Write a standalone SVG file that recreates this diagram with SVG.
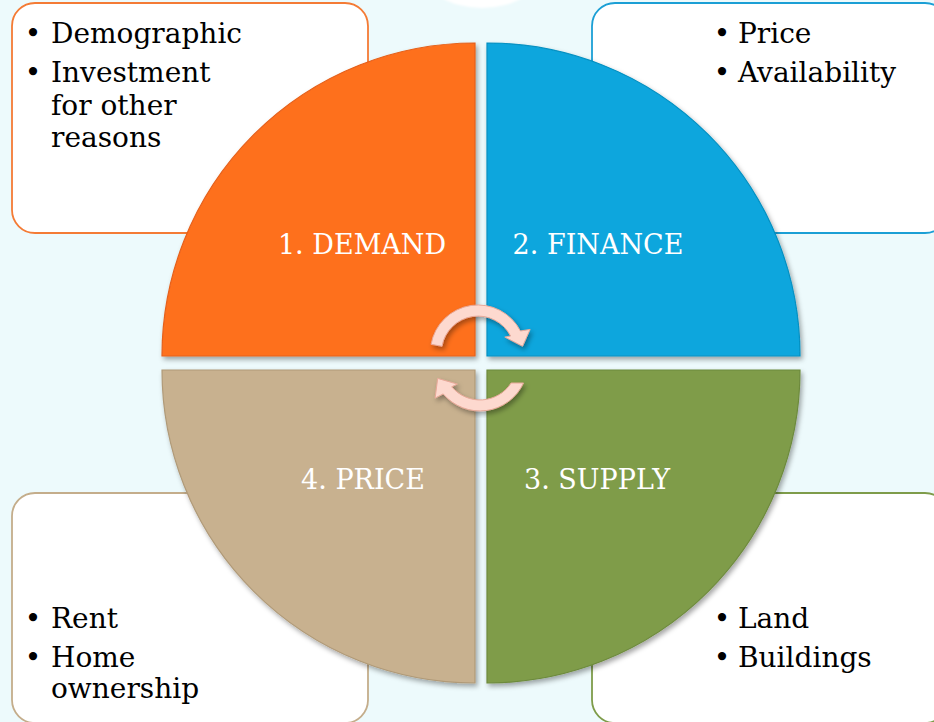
<svg xmlns="http://www.w3.org/2000/svg" width="934" height="722" viewBox="0 0 934 722">
  <defs>
    <filter id="shadow" x="-10%" y="-10%" width="130%" height="130%">
      <feDropShadow dx="2" dy="3" stdDeviation="2.5" flood-color="#000" flood-opacity="0.35"/>
    </filter>
    <filter id="soft" x="-20%" y="-20%" width="140%" height="140%">
      <feGaussianBlur stdDeviation="1.2"/>
    </filter>
    <style>
      .box { fill: #ffffff; stroke-width: 1.8; }
      .bullet { font-family: "DejaVu Serif", Georgia, serif; font-size: 28px; fill: #000000; }
      .label { font-family: "DejaVu Serif", Georgia, serif; font-size: 27px; fill: #ffffff; text-anchor: middle; }
      .wedge { stroke-width: 1.2; filter: url(#shadow); }
      .cycle { fill: #fdd9cf; stroke: #e8a898; stroke-width: 1; filter: url(#shadow); }
    </style>
  </defs>

  <!-- background -->
  <rect x="0" y="0" width="934" height="722" fill="#edfafc"/>
  <ellipse cx="482" cy="-30" rx="60" ry="38" fill="#ffffff" filter="url(#soft)"/>

  <!-- detail boxes -->
  <g id="box-demand">
    <rect class="box" x="12" y="3" width="356" height="230" rx="23" stroke="#f47b35"/>
    <text class="bullet" x="33" y="43" text-anchor="middle">•</text>
    <text class="bullet" x="51" y="43">Demographic</text>
    <text class="bullet" x="33" y="82" text-anchor="middle">•</text>
    <text class="bullet" x="51" y="82">Investment</text>
    <text class="bullet" x="51" y="115">for other</text>
    <text class="bullet" x="51" y="147">reasons</text>
  </g>

  <g id="box-finance">
    <rect class="box" x="592" y="3" width="356" height="230" rx="23" stroke="#1b9fd5"/>
    <text class="bullet" x="722" y="43" text-anchor="middle">•</text>
    <text class="bullet" x="738" y="43">Price</text>
    <text class="bullet" x="722" y="82" text-anchor="middle">•</text>
    <text class="bullet" x="738" y="82">Availability</text>
  </g>

  <g id="box-price">
    <rect class="box" x="12" y="493" width="356" height="230" rx="23" stroke="#c4ad8b"/>
    <text class="bullet" x="33" y="628" text-anchor="middle">•</text>
    <text class="bullet" x="51" y="628">Rent</text>
    <text class="bullet" x="33" y="667" text-anchor="middle">•</text>
    <text class="bullet" x="51" y="667">Home</text>
    <text class="bullet" x="51" y="698">ownership</text>
  </g>

  <g id="box-supply">
    <rect class="box" x="592" y="493" width="356" height="230" rx="23" stroke="#7e9c4a"/>
    <text class="bullet" x="722" y="628" text-anchor="middle">•</text>
    <text class="bullet" x="738" y="628">Land</text>
    <text class="bullet" x="722" y="667" text-anchor="middle">•</text>
    <text class="bullet" x="738" y="667">Buildings</text>
  </g>

  <!-- quadrants of the cycle -->
  <g id="demand">
    <path class="wedge" d="M475,356 H162 A313,313 0 0 1 475,43 Z" fill="#fe6f1f" stroke="#e5601a"/>
    <text class="label" x="362" y="254">1. DEMAND</text>
  </g>
  <g id="finance">
    <path class="wedge" d="M487,356 V43 A313,313 0 0 1 800,356 Z" fill="#09a6dd" stroke="#0790c2"/>
    <text class="label" x="598" y="254">2. FINANCE</text>
  </g>
  <g id="supply">
    <path class="wedge" d="M487,370 H800 A313,313 0 0 1 487,683 Z" fill="#7f9c4a" stroke="#6d8a3c"/>
    <text class="label" x="597" y="489">3. SUPPLY</text>
  </g>
  <g id="price">
    <path class="wedge" d="M475,370 V683 A313,313 0 0 1 162,370 Z" fill="#c8b18f" stroke="#b09a78"/>
    <text class="label" x="363" y="489">4. PRICE</text>
  </g>

  <!-- circular arrows at the centre -->
  <g id="connectors">
    <path class="cycle" d="M431.1,344.3 A47.6,47.6 0 0 1 520.4,331.0 L530.1,329.4 L522.6,346.3 L504.8,337.1 L510.6,336.0 A36.6,36.6 0 0 0 442,346.3 Z"/>
    <path class="cycle" d="M523.5,383 A48,48 0 0 1 443.2,393.9 L435.1,398.1 L437.7,378.4 L457.3,384.1 L451.7,386.8 A37,37 0 0 0 511.1,383 Z"/>
  </g>
</svg>
